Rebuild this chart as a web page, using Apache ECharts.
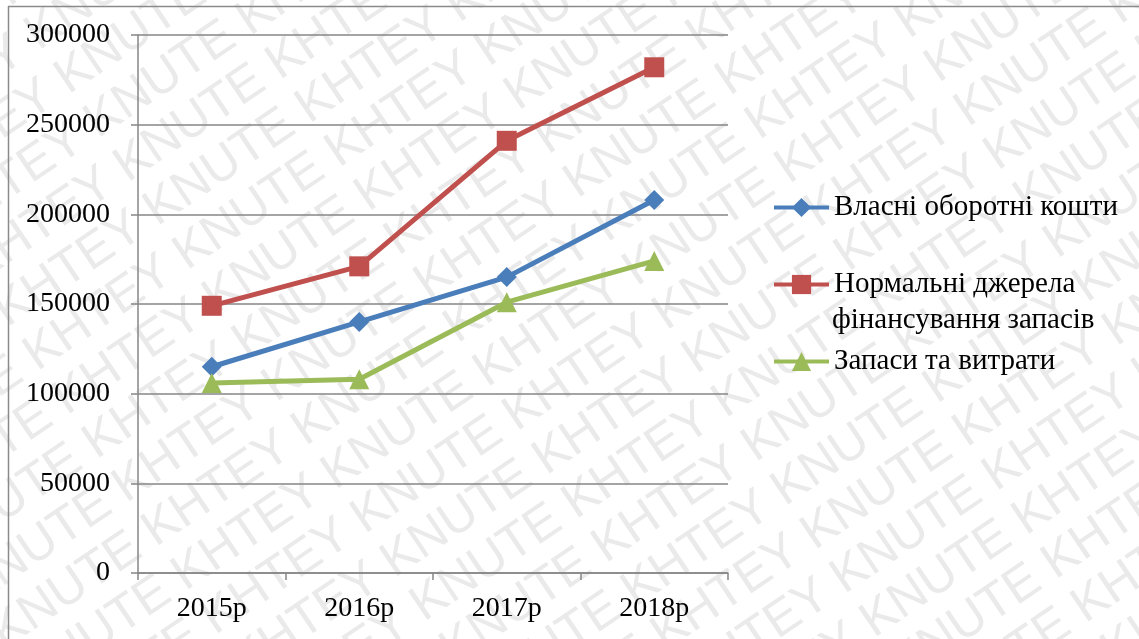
<!DOCTYPE html>
<html>
<head>
<meta charset="utf-8">
<script src="https://cdn.jsdelivr.net/npm/echarts@6/dist/echarts.min.js"></script>
<style>
html,body{margin:0;padding:0;background:#fff;}
#chart{width:1139px;height:639px;}
</style>
</head>
<body>
<div id="chart"></div>
<script>
const categories = ['2015р', '2016р', '2017р', '2018р'];
const seriesNames = ['Власні оборотні кошти', 'Нормальні джерела', 'Запаси та витрати'];
const legendSecondLine = 'фінансування запасів';
const ownCapital = [115000, 140000, 165000, 208000];
const normalSources = [149000, 171000, 241000, 282000];
const inventories = [106000, 108000, 151000, 174000];
const yTicks = [0, 50000, 100000, 150000, 200000, 250000, 300000];

const chart = echarts.init(document.getElementById('chart'));
const font = "'Liberation Serif', 'Times New Roman', serif";
const fs = 28;
const lfs = 29;

// watermark
const wm = [];
const theta = 34 * Math.PI / 180;
const px = Math.sin(theta), py = Math.cos(theta);
const spacing = 53;
for (let k = -4; k <= 28; k++) {
  const sx = -450 + px * spacing * k;
  const sy = 300 + py * spacing * k;
  wm.push({
    type: 'text',
    x: sx,
    y: sy,
    rotation: theta,
    silent: true,
    style: {
      text: 'KHTEY KNUTE '.repeat(10),
      fill: '#eaeaea',
      font: "50px 'Liberation Sans', Arial, sans-serif",
      textVerticalAlign: 'middle'
    },
    z: -10
  });
}
wm.push({ type: 'line', shape: { x1: 8, y1: 6.5, x2: 1139, y2: 6.5 }, style: { stroke: '#8a8a8a', lineWidth: 1.5 }, silent: true });
wm.push({ type: 'line', shape: { x1: 8.5, y1: 6, x2: 8.5, y2: 639 }, style: { stroke: '#8a8a8a', lineWidth: 1.5 }, silent: true });
wm.push({ type: 'text', x: 832, y: 320, silent: true, style: { text: legendSecondLine, fill: '#000', font: lfs + "px " + font, textVerticalAlign: 'middle' } });

const colors = ['#4a7ebb', '#c0504d', '#9bbb59'];
const legendBase = {
  orient: 'vertical',
  padding: 0,
  itemWidth: 55,
  itemHeight: 24,
  itemGap: 0,
  lineStyle: { width: 4 },
  textStyle: { fontFamily: font, fontSize: lfs, color: '#000' }
};

chart.setOption({
  animation: false,
  backgroundColor: '#fff',
  color: colors,
  graphic: wm,
  grid: { left: 138, right: 411, top: 35, bottom: 66 },
  legend: [
    Object.assign({}, legendBase, { left: 772, top: 193, data: [seriesNames[0]] }),
    Object.assign({}, legendBase, { left: 772, top: 270, data: [seriesNames[1]] }),
    Object.assign({}, legendBase, { left: 772, top: 347, data: [seriesNames[2]] })
  ],
  xAxis: {
    type: 'category',
    data: categories,
    boundaryGap: true,
    axisLine: { lineStyle: { color: '#868686', width: 1.5 } },
    axisTick: { show: true, length: 7, inside: false, lineStyle: { color: '#868686', width: 1.5 } },
    axisLabel: { fontFamily: font, fontSize: fs, color: '#000', margin: 22 }
  },
  yAxis: {
    type: 'value',
    min: yTicks[0],
    max: yTicks[yTicks.length - 1],
    interval: 50000,
    axisLine: { show: true, lineStyle: { color: '#868686', width: 1.5 } },
    axisTick: { show: true, length: 7, lineStyle: { color: '#868686', width: 1.5 } },
    splitLine: { lineStyle: { color: '#868686', width: 1.5 } },
    axisLabel: { fontFamily: font, fontSize: fs, color: '#000', margin: 28, formatter: v => String(v) }
  },
  series: [
    { name: seriesNames[0], type: 'line', data: ownCapital, symbol: 'diamond', symbolSize: 20, lineStyle: { width: 5 }, itemStyle: { color: colors[0] }, z: 3 },
    { name: seriesNames[1], type: 'line', data: normalSources, symbol: 'rect', symbolSize: 20, lineStyle: { width: 5 }, itemStyle: { color: colors[1] }, z: 3 },
    { name: seriesNames[2], type: 'line', data: inventories, symbol: 'triangle', symbolSize: 20, lineStyle: { width: 5 }, itemStyle: { color: colors[2] }, z: 3 }
  ]
});
</script>
</body>
</html>
